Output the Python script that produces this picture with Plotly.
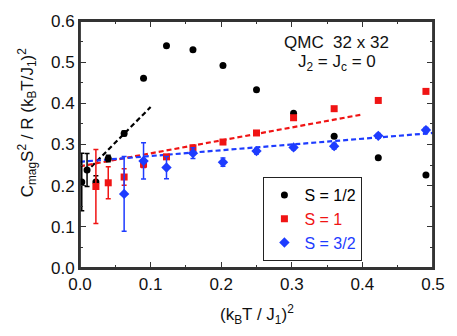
from plotly import graph_objects as go

# S = 1/2 (black circles)
x_half = [0.0025, 0.01, 0.0225, 0.04, 0.0625, 0.09, 0.1225, 0.16, 0.2025, 0.25, 0.3025, 0.36, 0.4225, 0.49]
y_half = [0.209, 0.238, 0.209, 0.266, 0.327, 0.461, 0.540, 0.530, 0.492, 0.433, 0.376, 0.320, 0.268, 0.226]
e_half = [0.07, 0.04, 0.015, 0.008, 0.006, None, None, None, None, None, None, None, None, None]

# S = 1 (red squares)
x_one = [0.0225, 0.04, 0.0625, 0.09, 0.1225, 0.16, 0.2025, 0.25, 0.3025, 0.36, 0.4225, 0.49]
y_one = [0.198, 0.207, 0.221, 0.252, 0.270, 0.292, 0.306, 0.328, 0.365, 0.387, 0.407, 0.429]
e_one = [0.09, 0.039, 0.02, 0.008, None, None, None, None, None, None, None, None]

# S = 3/2 (blue diamonds)
x_3half = [0.0625, 0.09, 0.1225, 0.16, 0.2025, 0.25, 0.3025, 0.36, 0.4225, 0.49]
y_3half = [0.180, 0.260, 0.244, 0.279, 0.257, 0.284, 0.293, 0.296, 0.321, 0.335]
e_3half = [0.091, 0.044, 0.027, 0.013, 0.01, 0.007, 0.006, 0.007, 0.006, 0.006]

# dashed linear fits (end points)
fit_half_x = [0.008, 0.1]
fit_half_y = [0.232, 0.391]
fit_one_x = [0.0, 0.4]
fit_one_y = [0.247, 0.373]
fit_3half_x = [0.0, 0.5]
fit_3half_y = [0.258, 0.328]

BLACK = '#000000'
RED = '#f01414'
BLUE = '#1e3cff'
FRAME = '#333333'
FONT = 'Arial, Liberation Sans, sans-serif'

fig = go.Figure()

# fit lines
for fx, fy, col in [(fit_half_x, fit_half_y, BLACK),
                    (fit_one_x, fit_one_y, RED),
                    (fit_3half_x, fit_3half_y, BLUE)]:
    fig.add_trace(go.Scatter(x=fx, y=fy, mode='lines',
                             line=dict(color=col, width=2.2, dash='5px,3px'),
                             showlegend=False, hoverinfo='skip'))

# data
series = [
    (x_half, y_half, e_half, BLACK, 'circle', 7, 'S = 1/2'),
    (x_one, y_one, e_one, RED, 'square', 7, 'S = 1'),
    (x_3half, y_3half, e_3half, BLUE, 'diamond', 8, 'S = 3/2'),
]
for sx, sy, se, col, sym, size, label in series:
    fig.add_trace(go.Scatter(
        x=sx, y=sy, mode='markers',
        marker=dict(color=col, symbol=sym, size=size, line=dict(width=0)),
        error_y=dict(type='data', array=se, visible=True, color=col,
                     thickness=1.5, width=2.5),
        name=f"<span style='color:{col}'>{label}</span>"))

fig.update_layout(
    width=457, height=336,
    margin=dict(l=80, r=17, t=13, b=68),
    plot_bgcolor='white', paper_bgcolor='white',
    font=dict(family=FONT, size=17, color='#111111'),
    showlegend=True,
    legend=dict(x=0.519, y=0.369, xanchor='left', yanchor='top',
                bgcolor='white', bordercolor='#222222', borderwidth=1.2,
                font=dict(size=16), itemwidth=30, tracegroupgap=0),
    annotations=[
        dict(text='QMC&nbsp; 32 x 32', x=0.728, y=0.914, xref='paper', yref='paper',
             showarrow=False, xanchor='center', yanchor='middle', font=dict(size=17)),
        dict(text='J<sub>2</sub> = J<sub>c</sub> = 0', x=0.728, y=0.83, xref='paper', yref='paper',
             showarrow=False, xanchor='center', yanchor='middle', font=dict(size=17)),
        dict(text='(k<sub>B</sub>T / J<sub>1</sub>)<sup>2</sup>', x=0.5, y=-0.19,
             xref='paper', yref='paper', showarrow=False, xanchor='center',
             yanchor='middle', font=dict(size=17)),
        dict(text='C<sub>mag</sub>S<sup>2</sup> / R (k<sub>B</sub>T/J<sub>1</sub>)<sup>2</sup>',
             x=-0.15, y=0.59, xref='paper', yref='paper', showarrow=False,
             textangle=-90, xanchor='center', yanchor='middle', font=dict(size=17)),
    ],
    # frame round the plot area
    shapes=[dict(type='rect', xref='paper', yref='paper', x0=0, y0=0, x1=1, y1=1,
                 line=dict(color=FRAME, width=1.8), layer='above')],
)

axis_style = dict(showline=True, linewidth=1.8, linecolor=FRAME, mirror='allticks',
                  ticks='inside', ticklen=6, tickwidth=1.2, tickcolor=FRAME,
                  showgrid=False, zeroline=False, tickformat='.1f', fixedrange=True)

fig.update_xaxes(range=[0, 0.5], dtick=0.1,
                 minor=dict(dtick=0.05, ticks='inside', ticklen=3, tickcolor=FRAME),
                 **axis_style)
fig.update_yaxes(range=[0, 0.6], dtick=0.1,
                 minor=dict(dtick=0.05, ticks='inside', ticklen=3, tickcolor=FRAME),
                 **axis_style)

# page body margin / scrollbars would push the 457x336 figure past the window
fig.write_html("out.html", config={'displayModeBar': False},
               post_script="document.body.style.margin='0';"
                           "document.documentElement.style.overflow='hidden';")
